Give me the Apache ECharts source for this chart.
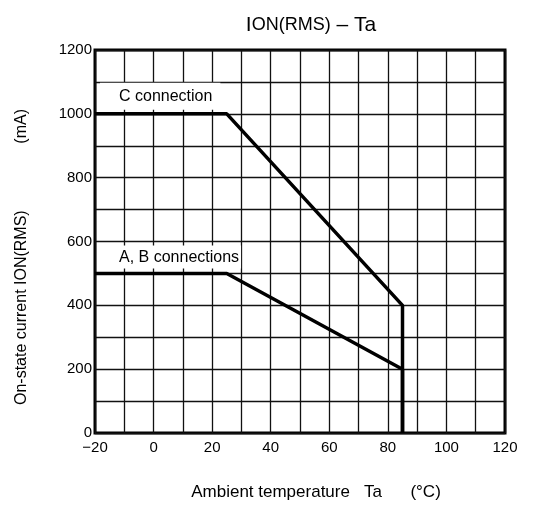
<!DOCTYPE html>
<html>
<head>
<meta charset="utf-8">
<script src="https://cdn.jsdelivr.net/npm/echarts@6/dist/echarts.min.js"></script>
<style>html,body{margin:0;padding:0;background:#fff}#c{width:544px;height:508px}</style>
</head>
<body>
<div id="c"></div>
<script>
const xTicks = [-20, 0, 20, 40, 60, 80, 100, 120];
const yTicks = [0, 200, 400, 600, 800, 1000, 1200];
const cConnTemp = [-20, 25, 85, 85];
const cConnCurrent = [1000, 1000, 400, 0];
const abConnTemp = [-20, 25, 85, 85];
const abConnCurrent = [500, 500, 200, 0];
const seriesNames = ['C connection', 'A, B connections'];

const font = 'Liberation Sans, Arial, sans-serif';
const chart = echarts.init(document.getElementById('c'), null, {renderer: 'canvas'});
const zip = (xs, ys) => xs.map((x, i) => [x, ys[i]]);
const labelMark = (name, coord, pos, pad) => ({
  symbol: 'rect', symbolSize: 0, silent: true,
  data: [{coord: coord, value: name}],
  label: {
    show: true, formatter: name, position: pos,
    color: '#000', fontFamily: font, fontSize: 16,
    backgroundColor: '#fff', padding: pad, lineHeight: 16
  }
});
chart.setOption({
  animation: false,
  backgroundColor: '#fff',
  title: {
    text: '{i|I}{s|ON(RMS)}{t| – Ta}',
    left: 306, top: 10, textAlign: 'center',
    textStyle: {
      fontWeight: 'normal',
      rich: {
        i: {fontFamily: font, fontSize: 21, color: '#000', fontWeight: 'normal'},
        s: {fontFamily: font, fontSize: 18, color: '#000', fontWeight: 'normal'},
        t: {fontFamily: font, fontSize: 21, color: '#000', fontWeight: 'normal'}
      }
    }
  },
  grid: {left: 95, right: 39, top: 50, bottom: 75, show: true, borderColor: '#000', borderWidth: 3},
  xAxis: {
    type: 'value', min: -20, max: 120, interval: 10,
    name: 'Ambient temperature   Ta      (°C)', nameLocation: 'middle', nameGap: 51,
    nameTextStyle: {fontFamily: font, fontSize: 17, color: '#000', padding: [0, 0, 0, 32]},
    axisLine: {show: false}, axisTick: {show: false},
    axisLabel: {
      fontFamily: font, fontSize: 15, color: '#000', margin: 7, showMinLabel: true, showMaxLabel: true,
      formatter: v => xTicks.includes(v) ? (v < 0 ? '\u2212' + Math.abs(v) : String(v)) : ''
    },
    splitLine: {show: true, lineStyle: {color: '#111', width: 1.3}}
  },
  yAxis: {
    type: 'value', min: 0, max: 1200, interval: 100,
    name: 'On-state current ION(RMS)               (mA)', nameLocation: 'middle', nameGap: 65, nameRotate: 90,
    nameTextStyle: {fontFamily: font, fontSize: 16, color: '#000', padding: [0, 31, 0, 0]},
    axisLine: {show: false}, axisTick: {show: false},
    axisLabel: {
      fontFamily: font, fontSize: 15, color: '#000', margin: 3,
      formatter: v => yTicks.includes(v) ? String(v) : ''
    },
    splitLine: {show: true, lineStyle: {color: '#111', width: 1.3}}
  },
  series: [
    {
      name: seriesNames[0], type: 'line', data: zip(cConnTemp, cConnCurrent),
      symbol: 'none', lineStyle: {color: '#000', width: 3.5}, z: 5,
      markPoint: labelMark(seriesNames[0], [-20, 1000], [5, -31], [6, 8, 5, 19])
    },
    {
      name: seriesNames[1], type: 'line', data: zip(abConnTemp, abConnCurrent),
      symbol: 'none', lineStyle: {color: '#000', width: 3.5}, z: 5,
      markPoint: labelMark(seriesNames[1], [-20, 500], [3, -28], [4, 2, 3, 21])
    }
  ]
});
</script>
</body>
</html>
